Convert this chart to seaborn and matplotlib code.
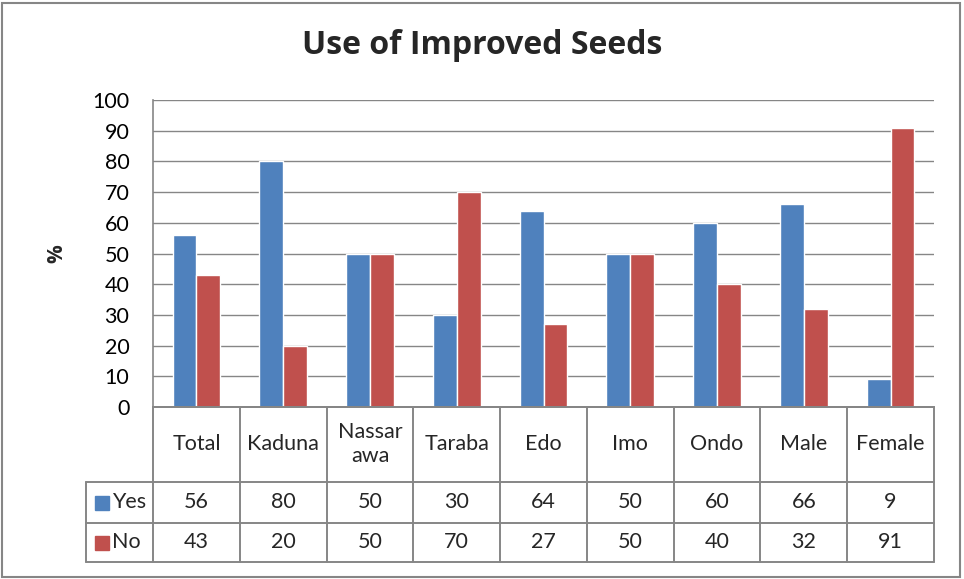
import pandas as pd
import matplotlib.pyplot as plt
import matplotlib.transforms as mtransforms
from matplotlib.patches import Rectangle
import seaborn as sns

# Dados do gráfico
categorias = ['Total', 'Kaduna', 'Nassar\nawa', 'Taraba', 'Edo', 'Imo', 'Ondo', 'Male', 'Female']
sim = [56, 80, 50, 30, 64, 50, 60, 66, 9]
nao = [43, 20, 50, 70, 27, 50, 40, 32, 91]
series = ['Yes', 'No']
cores = ['#4F81BD', '#C0504D']
cinza = '#868686'


def montar_df():
    linhas = []
    for cat, s, n in zip(categorias, sim, nao):
        linhas.append({'Categoria': cat, 'Serie': 'Yes', 'Valor': s})
        linhas.append({'Categoria': cat, 'Serie': 'No', 'Valor': n})
    return pd.DataFrame(linhas)


def main():
    df = montar_df()
    sns.set_theme(style='white')
    plt.rcParams['font.family'] = ['Lato', 'DejaVu Sans']

    fig = plt.figure(figsize=(9.64, 5.79), dpi=100)
    ax = fig.add_axes([153 / 964, 1 - 407 / 579, 781 / 964, 307 / 579])

    sns.barplot(data=df, x='Categoria', y='Valor', hue='Serie', order=categorias,
                hue_order=series, palette=cores, width=0.55, saturation=1,
                ax=ax, legend=False)

    ax.set_xlim(-0.5, len(categorias) - 0.5)
    ax.set_ylim(0, 100)
    ax.set_yticks(range(0, 101, 10))
    ax.yaxis.grid(True, color=cinza, linewidth=1)
    ax.set_axisbelow(True)
    ax.tick_params(axis='y', length=0, pad=17, labelsize=15.5, colors='black')
    ax.set_xticks([])
    ax.set_xlabel('')
    ax.set_ylabel('%', fontsize=15, fontweight='bold', family='Open Sans', labelpad=18)
    for lado in ['left', 'bottom']:
        ax.spines[lado].set_color(cinza)
        ax.spines[lado].set_linewidth(1.2)
    ax.spines['top'].set_visible(False)
    ax.spines['right'].set_visible(False)

    # Tabela de dados abaixo do gráfico
    trans = mtransforms.blended_transform_factory(ax.transData, ax.transAxes)
    n = len(categorias)
    esq_rot = -0.5 - 67 / (781 / n)
    y_cab = 0
    y_sim = -75 / 307
    y_nao = -116 / 307
    y_fim = -155 / 307
    kw = dict(color=cinza, linewidth=1.4, transform=trans, clip_on=False)
    for i in range(n + 1):
        ax.plot([i - 0.5, i - 0.5], [y_cab, y_fim], **kw)
    ax.plot([esq_rot, esq_rot], [y_sim, y_fim], **kw)
    ax.plot([-0.5, n - 0.5], [y_cab, y_cab], **kw)
    for yy in [y_sim, y_nao, y_fim]:
        ax.plot([esq_rot, n - 0.5], [yy, yy], **kw)

    for i, cat in enumerate(categorias):
        ax.text(i, (y_cab + y_sim) / 2, cat, ha='center', va='center', fontsize=15.5,
                transform=trans, linespacing=1.25)
        ax.text(i, (y_sim + y_nao) / 2, str(sim[i]), ha='center', va='center',
                fontsize=15.5, transform=trans)
        ax.text(i, (y_nao + y_fim) / 2, str(nao[i]), ha='center', va='center',
                fontsize=15.5, transform=trans)

    for nome, cor, y0, y1 in [('Yes', cores[0], y_sim, y_nao), ('No', cores[1], y_nao, y_fim)]:
        yc = (y0 + y1) / 2
        yfig = ax.transAxes.transform((0, yc))[1] / fig.bbox.height
        fig.patches.append(Rectangle((95 / 964, yfig - 7 / 579), 14 / 964, 14 / 579,
                                     color=cor, transform=fig.transFigure))
        fig.text(112 / 964, yfig, nome, ha='left', va='center', fontsize=15.5)

    fig.suptitle('Use of Improved Seeds', x=0.5, y=1 - 46 / 579, va='center',
                 fontsize=23, fontweight='bold', family='Open Sans')

    fig.patches.append(Rectangle((2 / 964, 2 / 579), 958 / 964, 574 / 579, fill=False,
                                 edgecolor=cinza, linewidth=1.5, transform=fig.transFigure))

    fig.savefig('out.png', dpi=100)


if __name__ == "__main__":
    main()
